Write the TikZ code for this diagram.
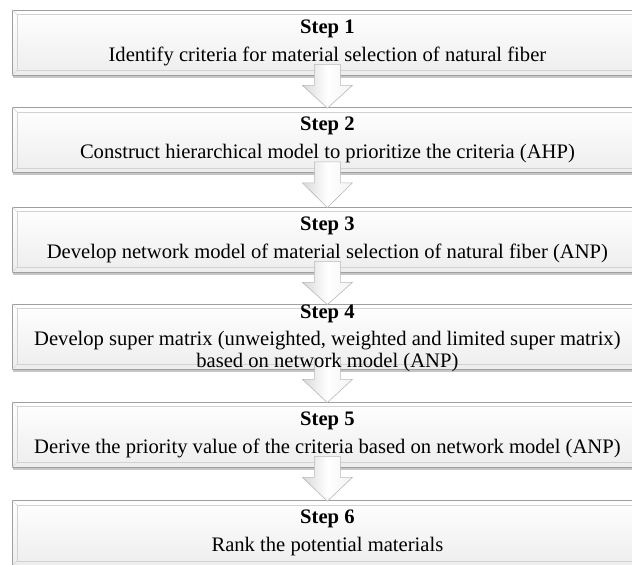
\documentclass[tikz,border=0pt]{standalone}
\usepackage{fontspec}
\setmainfont{Liberation Serif}
\usetikzlibrary{positioning,calc}

\tikzset{
  stepbox/.style={rectangle, draw=gray!75, line width=0.8pt, minimum width=630pt,
    minimum height=65pt, inner sep=0pt, top color=white, bottom color=gray!14},
  bevel/.style={draw=gray!35, line width=0.5pt},
  boxshadow/.style={fill=gray!45},
  steptext/.style={align=center, inner sep=0pt, font=\fontsize{20.6}{22}\selectfont},
  steparrow/.style={draw=gray!55, line width=0.6pt, left color=gray!30, right color=gray!10, middle color=white},
}

% box with bevel and shadow
\newcommand\stepbox[2]{%
  \fill[boxshadow] ($(12,#2)+(1,-30)$) rectangle ($(642,#2)+(3,35)$);
  \node[stepbox, anchor=west] (#1) at (12,#2) {};
  \draw[bevel] ($(#1.north west)+(5,5)$) rectangle ($(#1.south east)+(-5,-5)$);
  \draw[bevel] (#1.north west) -- ++(5,5) (#1.south west) -- ++(5,-5);
}
% block arrow between two boxes
\newcommand\flowarrow[2]{%
  \path[steparrow] ($(#1.south)+(-13,-11)$) -- ($(#1.south)+(13,-11)$)
    -- ($(#1.south)+(13,10)$) -- ($(#1.south)+(25,10)$) -- ($(#2.north)+(0,1)$)
    -- ($(#1.south)+(-25,10)$) -- ($(#1.south)+(-13,10)$) -- cycle;
}

\begin{document}
\begin{tikzpicture}[x=1pt, y=-1pt]
\useasboundingbox (0,0) rectangle (632,565);
\clip (0,0) rectangle (632,565);

\stepbox{s1}{42.5}
\stepbox{s2}{140}
\stepbox{s3}{239.5}
\stepbox{s4}{336.5}
\stepbox{s5}{434.5}
\stepbox{s6}{533}

\flowarrow{s1}{s2}
\flowarrow{s2}{s3}
\flowarrow{s3}{s4}
\flowarrow{s4}{s5}
\flowarrow{s5}{s6}

\node[steptext] (t1) at (s1) {\textbf{Step 1}\\[6pt] Identify criteria for material selection of natural fiber};
\node[steptext] (t2) at (s2) {\textbf{Step 2}\\[6pt] Construct hierarchical model to prioritize the criteria (AHP)};
\node[steptext] (t3) at (s3) {\textbf{Step 3}\\[6pt] Develop network model of material selection of natural fiber (ANP)};
\node[steptext] (t4) at ($(s4)+(0,2)$) {\textbf{Step 4}\\[5pt] Develop super matrix (unweighted, weighted and limited super matrix)\\ based on network model (ANP)};
\node[steptext] (t5) at (s5) {\textbf{Step 5}\\[6pt] Derive the priority value of the criteria based on network model (ANP)};
\node[steptext] (t6) at (s6) {\textbf{Step 6}\\[6pt] Rank the potential materials};
\end{tikzpicture}
\end{document}
